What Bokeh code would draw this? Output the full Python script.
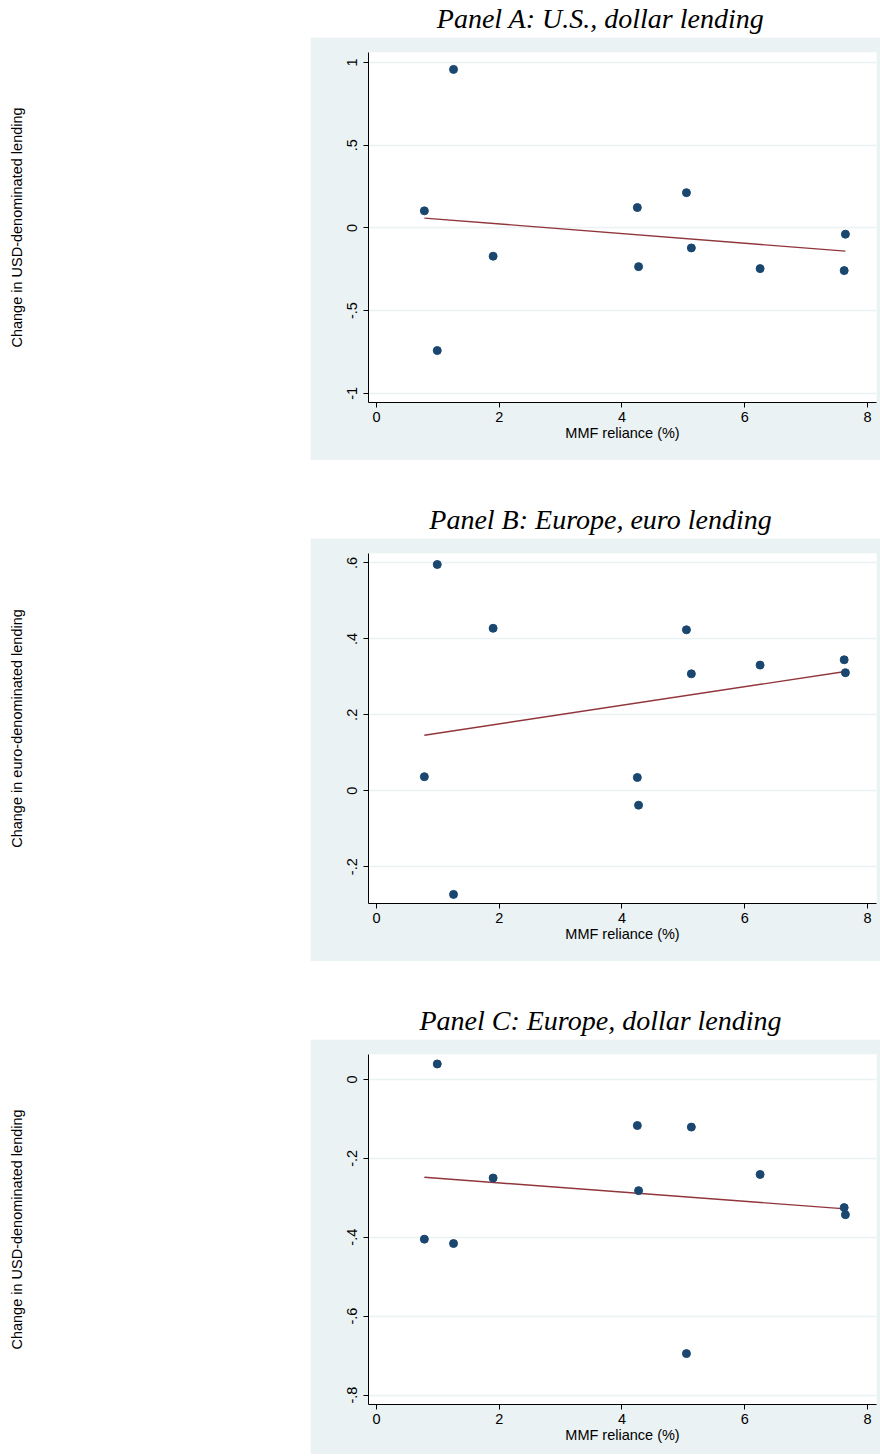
import numpy as np
from bokeh.plotting import figure
from bokeh.layouts import column, row
from bokeh.models import Range1d, FixedTicker, Title
from bokeh.embed import file_html
from bokeh.resources import INLINE

# ---------------- data ----------------
mmf_reliance = [0.78, 0.99, 1.255, 1.90, 4.25, 4.27, 5.05, 5.13, 6.25, 7.62, 7.64]
usd_lending_us = [0.103, -0.741, 0.958, -0.171, 0.123, -0.234, 0.213, -0.121, -0.246, -0.258, -0.038]
euro_lending_eu = [0.037, 0.596, -0.273, 0.428, 0.035, -0.038, 0.424, 0.308, 0.331, 0.345, 0.311]
usd_lending_eu = [-0.405, 0.039, -0.416, -0.250, -0.117, -0.282, -0.695, -0.121, -0.241, -0.325, -0.343]

x_ticks = [0, 2, 4, 6, 8]
x_tick_labels = ["0", "2", "4", "6", "8"]
y_ticks_a = [-1.0, -0.5, 0.0, 0.5, 1.0]
y_tick_labels_a = ["-1", "-.5", "0", ".5", "1"]
y_ticks_b = [-0.2, 0.0, 0.2, 0.4, 0.6]
y_tick_labels_b = ["-.2", "0", ".2", ".4", ".6"]
y_ticks_c = [-0.8, -0.6, -0.4, -0.2, 0.0]
y_tick_labels_c = ["-.8", "-.6", "-.4", "-.2", "0"]

titles = ["Panel A: U.S., dollar lending",
          "Panel B: Europe, euro lending",
          "Panel C: Europe, dollar lending"]
y_labels = ["Change in USD-denominated lending",
            "Change in euro-denominated lending",
            "Change in USD-denominated lending"]
x_label = "MMF reliance (%)"

# ---------------- style ----------------
BG = "#EAF2F3"
NAVY = "#1A476F"
MAROON = "#90353B"
SANS = "Liberation Sans"
SERIF = "Liberation Serif"
TOTAL_W = 880
LEFT_W = 310
MAIN_W = TOTAL_W - LEFT_W


def title_fig(text, height):
    t = Title(text=text, align="center", text_font=SERIF, text_font_style="italic",
              text_font_size="28px", text_color="black", standoff=0, offset=0)
    f = figure(width=TOTAL_W, height=height, output_backend="svg", toolbar_location=None,
               title=t, x_range=Range1d(0, 1), y_range=Range1d(0, 1),
               x_axis_location=None, y_axis_location=None,
               min_border_left=320, min_border_right=0, min_border_top=height - 4,
               min_border_bottom=0)
    f.grid.visible = False
    f.outline_line_color = None
    f.background_fill_color = "white"
    f.border_fill_color = "white"
    return f


def label_fig(text, height, bottom):
    f = figure(width=LEFT_W, height=height, output_backend="svg", toolbar_location=None,
               title=None, x_range=Range1d(0, 1), y_range=Range1d(0, 1),
               x_axis_location=None, y_axis_location="left",
               min_border_left=32, min_border_right=0, min_border_top=15,
               min_border_bottom=bottom)
    f.grid.visible = False
    f.outline_line_color = None
    f.background_fill_color = "white"
    f.border_fill_color = "white"
    ax = f.yaxis[0]
    ax.ticker = FixedTicker(ticks=[])
    ax.axis_line_color = None
    ax.major_tick_line_color = None
    ax.minor_tick_line_color = None
    ax.major_tick_out = 0
    ax.major_tick_in = 0
    ax.minor_tick_out = 0
    ax.major_label_standoff = 0
    ax.major_label_text_font_size = "0px"
    ax.axis_label = text
    ax.axis_label_text_font = SANS
    ax.axis_label_text_font_style = "normal"
    ax.axis_label_text_font_size = "14.5px"
    ax.axis_label_text_color = "black"
    ax.axis_label_standoff = 8
    return f


def panel(yvals, yticks, ylabels, yrange, height, bottom):
    p = figure(width=MAIN_W, height=height, output_backend="svg", toolbar_location=None,
               title=None, x_range=Range1d(-0.1303, 8.1466), y_range=Range1d(*yrange),
               min_border_left=58, min_border_right=4, min_border_top=15,
               min_border_bottom=bottom)
    p.background_fill_color = "white"
    p.border_fill_color = BG
    p.outline_line_color = None
    p.xgrid.visible = False
    p.ygrid.ticker = FixedTicker(ticks=yticks)
    p.ygrid.grid_line_color = BG
    p.ygrid.grid_line_width = 1.3

    for ax in (p.xaxis[0], p.yaxis[0]):
        ax.axis_line_color = "black"
        ax.axis_line_width = 1
        ax.major_tick_line_color = "black"
        ax.major_tick_out = 5
        ax.major_tick_in = 0
        ax.minor_tick_line_color = None
        ax.major_label_text_font = SANS
        ax.major_label_text_font_size = "14.5px"
        ax.major_label_text_color = "black"
        ax.major_label_standoff = 4
    p.yaxis.major_label_standoff = 6

    p.xaxis.ticker = FixedTicker(ticks=x_ticks)
    p.xaxis.major_label_overrides = {float(t): l for t, l in zip(x_ticks, x_tick_labels)}
    p.xaxis.axis_label = x_label
    p.xaxis.axis_label_text_font = SANS
    p.xaxis.axis_label_text_font_style = "normal"
    p.xaxis.axis_label_text_font_size = "14.5px"
    p.xaxis.axis_label_text_color = "black"
    p.xaxis.axis_label_standoff = 0

    p.yaxis.ticker = FixedTicker(ticks=yticks)
    p.yaxis.major_label_overrides = {float(t): l for t, l in zip(yticks, ylabels)}
    p.yaxis.major_label_orientation = "vertical"

    xs = np.array(mmf_reliance)
    ys = np.array(yvals)
    slope, intercept = np.polyfit(xs, ys, 1)
    fx = np.array([xs.min(), xs.max()])
    p.line(fx, intercept + slope * fx, line_color=MAROON, line_width=1.4)
    p.scatter(xs, ys, size=8, fill_color=NAVY, line_color=NAVY)
    return p


pa = panel(usd_lending_us, y_ticks_a, y_tick_labels_a, (-1.055, 1.06), 423, 58)
pb = panel(euro_lending_eu, y_ticks_b, y_tick_labels_b, (-0.297, 0.625), 423, 58)
pc = panel(usd_lending_eu, y_ticks_c, y_tick_labels_c, (-0.824, 0.063), 415, 50)

layout = column(
    title_fig(titles[0], 37),
    row(label_fig(y_labels[0], 423, 58), pa),
    title_fig(titles[1], 78),
    row(label_fig(y_labels[1], 423, 58), pb),
    title_fig(titles[2], 78),
    row(label_fig(y_labels[2], 415, 50), pc),
)

open("out.html", "w").write(file_html(layout, INLINE))
